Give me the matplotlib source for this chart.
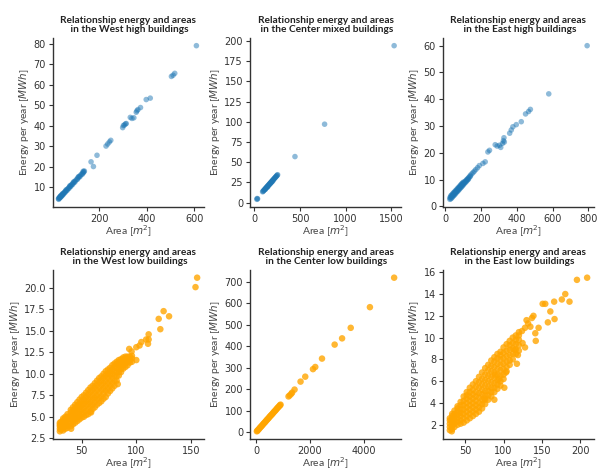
import matplotlib
matplotlib.use("Agg")
import matplotlib.pyplot as plt
from matplotlib.ticker import MultipleLocator

# values (area in m2, energy in MWh)

# West high buildings
wh_area = [28, 30, 32, 34, 36, 38, 40, 43, 46, 49, 52, 55, 58, 62, 66, 70, 74, 78, 82, 86,
           90, 95, 100, 105, 110, 115, 120, 125, 130, 135, 137,
           29, 33, 37, 41, 45, 50, 56, 64, 72, 80, 88, 97, 108, 118, 128, 133, 36, 44, 60,
           76, 92, 112, 132,
           165, 175, 190, 228, 235, 242, 248, 298, 301, 305, 310, 313, 330, 337, 345, 355,
           358, 362, 373, 397, 414, 503, 510, 517, 608]
wh_energy = [4.3, 4.6, 4.8, 5.1, 5.3, 5.6, 5.8, 6.2, 6.6, 6.9, 7.3, 7.7, 8.0, 8.5, 9.0, 9.5,
             10.0, 10.5, 11.0, 11.5, 12.0, 12.6, 13.2, 13.8, 14.5, 15.1, 15.7, 16.3, 16.9,
             17.5, 17.8,
             4.0, 4.6, 5.0, 5.5, 6.0, 6.6, 7.4, 8.3, 9.3, 10.3, 11.3, 12.4, 13.8, 15.0, 16.2,
             17.0, 5.6, 6.6, 8.6, 10.6, 12.5, 15.0, 17.7,
             22.3, 20.0, 25.5, 30.0, 31.0, 32.0, 32.8, 39.0, 40.0, 40.3, 40.8, 41.0, 44.0,
             43.5, 43.8, 46.5, 47.2, 47.8, 48.8, 52.7, 53.4, 64.0, 64.6, 65.5, 79.0]

# Center mixed buildings
cm_area = [27, 35, 30, 90, 95, 100, 105, 110, 115, 120, 125, 130, 135, 140, 145, 150, 155,
           160, 165, 170, 175, 180, 185, 190, 195, 200, 205, 210, 215, 220, 225, 230, 235,
           240, 245, 250, 255, 120, 150, 170, 140, 200, 185, 445, 770, 1533]
cm_energy = [4.2, 4.8, 5.2, 13.5, 14.1, 14.8, 15.4, 16.0, 16.7, 17.3, 18.0, 18.6, 19.2, 19.9,
             20.5, 21.2, 21.8, 22.4, 23.1, 23.7, 24.4, 25.0, 25.6, 26.3, 26.9, 27.6, 28.2,
             28.8, 29.5, 30.1, 30.8, 31.4, 32.0, 32.7, 33.3, 34.0, 34.6, 16.5, 20.2, 22.8,
             18.9, 26.5, 24.8, 57, 97, 194]

# East high buildings
eh_area = [25, 25, 30, 30, 30, 35, 35, 35, 40, 40, 40, 45, 45, 45, 50, 50, 50, 55, 55, 55,
           60, 60, 60, 65, 65, 65, 70, 70, 70, 75, 75, 75, 80, 80, 80, 85, 85, 85, 90, 90, 90,
           95, 95, 95, 100, 100, 100, 105, 105, 110, 110, 115, 115, 120, 120, 125, 125, 130,
           130, 135, 140, 140, 148, 155, 162, 170, 180, 190,
           210, 223, 238, 247, 279, 290, 303, 310, 320, 325, 330, 328, 360, 369, 378, 397,
           425, 449, 466, 476, 579, 794]
eh_energy = [2.6, 3.2, 2.8, 3.4, 3.9, 3.1, 3.7, 4.2, 3.5, 4.0, 4.6, 3.9, 4.4, 5.0, 4.2, 4.8,
             5.3, 4.6, 5.2, 5.7, 5.0, 5.5, 6.0, 5.4, 5.9, 6.4, 5.7, 6.3, 6.8, 6.1, 6.6, 7.1,
             6.5, 7.0, 7.5, 6.9, 7.4, 7.9, 7.2, 7.8, 8.3, 7.6, 8.1, 8.6, 8.0, 8.5, 9.0, 8.4,
             8.9, 8.8, 9.3, 9.1, 9.6, 9.5, 10.0, 9.9, 10.3, 10.2, 10.7, 11.0, 11.2, 11.6,
             12.1, 12.6, 13.1, 13.7, 14.4, 15.2,
             16.0, 16.6, 20.3, 20.9, 23.0, 22.5, 22.8, 22.0, 23.5, 24.5, 24.0, 25.6, 27.3,
             28.5, 29.7, 30.5, 31.6, 34.5, 35.4, 36.2, 42.0, 60.0]

# West low buildings: columns of the dense band, then the loose points
wl_cols = [30, 31, 33, 35, 37, 40, 42, 44, 46, 48, 50, 52, 54, 56, 58, 60, 62, 64, 66, 68,
           70, 72, 74, 76, 78, 80, 82, 84, 86, 88, 90, 92, 94, 96]
wl_vals = [[3.3, 3.6, 3.9, 4.1, 4.3], [3.5, 3.8, 4.0, 4.4],
           [3.4, 3.7, 4.0, 4.3, 4.6, 4.8], [3.6, 3.9, 4.2, 4.5, 4.8, 5.0],
           [3.7, 4.0, 4.4, 4.7, 5.0, 5.3], [3.9, 4.3, 4.7, 5.1, 5.5, 5.8],
           [4.1, 4.5, 4.9, 5.3, 5.7, 6.1], [4.3, 4.7, 5.1, 5.6, 6.0, 6.4],
           [4.5, 4.9, 5.4, 5.8, 6.3, 6.7], [4.7, 5.1, 5.6, 6.1, 6.5, 7.0],
           [4.9, 5.3, 5.8, 6.3, 6.8, 7.3], [5.0, 5.5, 6.0, 6.5, 7.0, 7.5],
           [5.2, 5.7, 6.3, 6.8, 7.3, 7.8], [5.3, 5.9, 6.5, 7.0, 7.6, 8.1],
           [5.6, 6.2, 6.7, 7.3, 7.9, 8.4], [5.9, 6.4, 7.0, 7.5, 8.1, 8.6],
           [6.1, 6.7, 7.2, 7.8, 8.4, 8.9], [6.4, 7.0, 7.5, 8.1, 8.7, 9.2],
           [6.6, 7.2, 7.8, 8.4, 9.0, 9.5], [6.8, 7.4, 8.1, 8.7, 9.2, 9.7],
           [7.1, 7.7, 8.3, 8.9, 9.5, 10.0], [7.3, 8.0, 8.6, 9.2, 9.8, 10.3],
           [7.7, 8.3, 8.9, 9.5, 10.0, 10.5], [8.0, 8.6, 9.2, 9.8, 10.3, 10.7],
           [8.3, 8.9, 9.5, 10.0, 10.5, 11.0], [8.6, 9.2, 9.8, 10.3, 10.8, 11.2],
           [9.2, 9.7, 10.2, 10.7, 11.1, 11.4], [9.8, 10.2, 10.6, 11.0, 11.3, 11.6],
           [10.2, 10.6, 11.0, 11.4, 11.7], [10.6, 11.0, 11.3, 11.6, 11.9],
           [10.8, 11.2, 11.5, 11.8, 12.0], [11.0, 11.4, 11.7, 12.0],
           [11.3, 11.6, 12.0], [11.4, 11.8, 12.1]]
wl_area = [40.3, 58.6, 83, 100, 93.5, 95.7, 100, 103, 104.6, 109, 110.7, 111.3, 111.3, 120.5,
           122, 125, 130, 154.2, 155.7]
wl_energy = [3.6, 5.5, 8.8, 11.6, 12.9, 12.6, 13.1, 13.3, 13.7, 14.0, 13.5, 14.6, 14.0, 16.4,
             15.2, 17.3, 16.7, 20.1, 21.2]

# Center low buildings
cl_area = [30, 50, 80, 110, 140, 170, 200, 230, 260, 290, 320, 350, 380, 410, 440, 470, 500,
           530, 560, 590, 620, 650, 680, 710, 740, 770, 800, 830, 860, 890, 910,
           1206, 1250, 1306, 1340, 1430, 1653, 1828, 2115, 2200, 2450, 2920, 3196, 3517,
           4230, 5130]
cl_energy = [5, 8, 12, 16, 21, 25, 29, 33, 38, 42, 46, 50, 55, 59, 63, 67, 72, 76, 80, 84,
             88, 93, 97, 101, 105, 110, 114, 118, 122, 126, 129,
             167, 172, 179, 185, 199, 236, 259, 294, 304, 343, 408, 437, 486, 582, 719]

# East low buildings: columns of the dense band, then the loose points
el_cols = [30, 33, 36, 40, 44, 48, 52, 56, 60, 64, 68, 72, 76, 80, 84, 88, 92, 96, 100, 104,
           108, 112, 116, 120]
el_vals = [[1.5, 1.8, 2.1, 2.4, 2.6], [1.6, 1.9, 2.2, 2.5, 2.8, 3.0],
           [1.8, 2.1, 2.4, 2.7, 3.0, 3.3], [2.0, 2.3, 2.6, 2.9, 3.2, 3.5, 3.7],
           [2.1, 2.4, 2.8, 3.1, 3.4, 3.8, 4.1], [2.2, 2.6, 3.0, 3.4, 3.8, 4.2, 4.6],
           [2.4, 2.8, 3.2, 3.6, 4.0, 4.4, 4.7, 5.0], [2.6, 3.0, 3.4, 3.8, 4.2, 4.6, 5.0, 5.4],
           [2.8, 3.2, 3.6, 4.0, 4.4, 4.8, 5.2, 5.7], [3.0, 3.4, 3.8, 4.2, 4.6, 5.0, 5.5, 6.0],
           [3.2, 3.6, 4.0, 4.5, 4.9, 5.4, 5.9, 6.4], [3.5, 3.9, 4.3, 4.8, 5.2, 5.7, 6.2, 6.8],
           [3.9, 4.3, 4.7, 5.1, 5.6, 6.1, 6.6, 7.2], [4.3, 4.7, 5.1, 5.5, 6.0, 6.5, 7.0, 7.5],
           [4.6, 5.0, 5.4, 5.9, 6.4, 6.9, 7.4, 7.9], [5.0, 5.4, 5.8, 6.3, 6.8, 7.3, 7.8, 8.2],
           [5.3, 5.7, 6.1, 6.6, 7.1, 7.6, 8.1, 8.5], [5.6, 6.0, 6.5, 7.0, 7.5, 8.0, 8.4, 8.7],
           [6.2, 6.6, 7.1, 7.6, 8.1, 8.6, 9.1], [6.9, 7.3, 7.8, 8.3, 8.8, 9.4],
           [7.5, 7.9, 8.4, 8.9, 9.3, 9.7], [8.0, 8.5, 9.0, 9.5, 10.0],
           [8.5, 8.9, 9.4, 9.8, 10.2], [8.8, 9.3, 9.8, 10.2, 10.5]]
el_area = [32.5, 209, 195.7, 186, 180.5, 176, 166, 154.4, 151, 166.5, 157.8, 161, 145.7,
           141.4, 142, 137, 139, 128, 124.8, 118.7, 117.4, 114.3, 103, 101, 94, 89, 75, 88,
           128, 132, 130, 135, 124]
el_energy = [1.4, 15.5, 15.3, 13.3, 14.0, 13.5, 13.3, 13.1, 13.1, 11.7, 11.4, 12.4, 10.9,
             10.4, 9.7, 11.8, 12.0, 9.1, 9.5, 8.4, 7.6, 8.9, 6.8, 5.4, 6.2, 6.6, 4.4, 4.3,
             10.9, 11.3, 11.6, 11.0, 10.6]


def flatten(cols, vals, xs, ys):
    fx, fy = [], []
    for c, v in zip(cols, vals):
        for y in v:
            fx.append(c)
            fy.append(y)
    return fx + xs, fy + ys


wl_x, wl_y = flatten(wl_cols, wl_vals, wl_area, wl_energy)
el_x, el_y = flatten(el_cols, el_vals, el_area, el_energy)

BLUE = "#1f77b4"
ORANGE = "orange"

# (x, y, colour, name, y tick step, xlim)
panels = [
    (wh_area, wh_energy, BLUE, "West high", 10, (5, 640)),
    (cm_area, cm_energy, BLUE, "Center mixed", 25, None),
    (eh_area, eh_energy, BLUE, "East high", 10, None),
    (wl_x, wl_y, ORANGE, "West low", 2.5, None),
    (cl_area, cl_energy, ORANGE, "Center low", 100, None),
    (el_x, el_y, ORANGE, "East low", 2, None),
]

fig = plt.figure(figsize=(6.01, 4.70), dpi=100)
W, H = 601, 470
lefts = [53, 250, 443]
tops = [38, 270]
aw, ah = 151, 169

for i, (x, y, color, name, ystep, xlim) in enumerate(panels):
    row, col = divmod(i, 3)
    ax = fig.add_axes([lefts[col] / W, (H - tops[row] - ah) / H, aw / W, ah / H])
    if color == BLUE:
        ax.scatter(x, y, s=16, color=color, alpha=0.5, edgecolors="none")
    else:
        ax.scatter(x, y, s=22, color=color, alpha=0.8, edgecolors="none")
    ax.yaxis.set_major_locator(MultipleLocator(ystep))
    if xlim:
        ax.set_xlim(xlim)
    ax.spines["top"].set_visible(False)
    ax.spines["right"].set_visible(False)
    for s in ["left", "bottom"]:
        ax.spines[s].set_color("#333333")
        ax.spines[s].set_linewidth(1.0)
    ax.tick_params(labelsize=7, length=3, width=0.8, colors="#333333", pad=2)
    ax.set_title("Relationship energy and areas\n in the %s buildings" % name,
                 fontsize=7.3, fontweight="bold", family="Lato", color="#222222", pad=4,
                 linespacing=1.0)
    ax.set_xlabel("Area [$m^2$]", fontsize=7.5, family="Lato", color="#444444", labelpad=0)
    ax.set_ylabel("Energy per year [$MWh$]", fontsize=7.5, family="Lato", color="#444444",
                  labelpad=2)

fig.savefig("out.png", dpi=100)
